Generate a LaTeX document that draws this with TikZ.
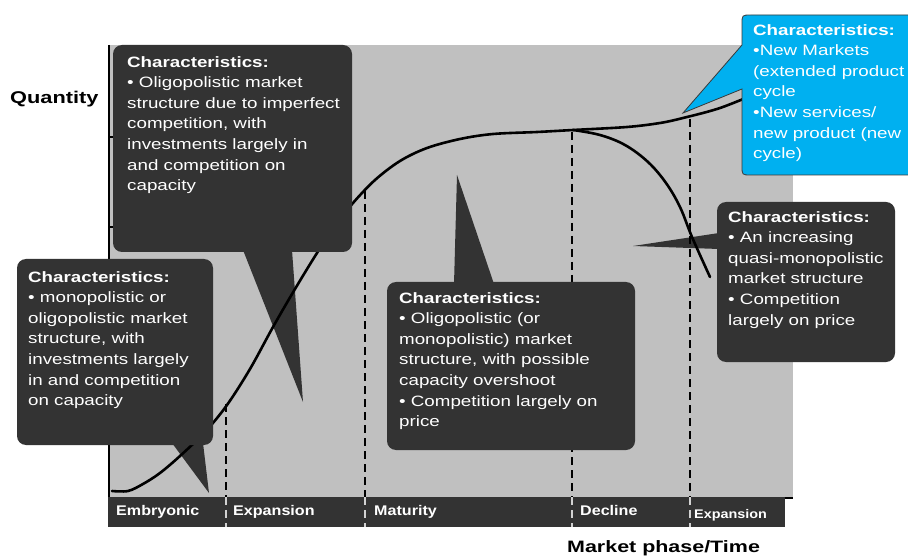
\documentclass[tikz,border=0pt]{standalone}
\usepackage{fontspec}
\setmainfont{Liberation Sans}
\newfontfamily\cfont{Liberation Sans}[FakeStretch=1.25]
\newfontfamily\qfont{Liberation Sans}[FakeStretch=1.28]
\newfontfamily\mfont{Liberation Sans}[FakeStretch=1.3]
\newfontfamily\pfont{Liberation Sans}[FakeStretch=1.15]
\definecolor{bgray}{HTML}{C0C0C0}
\definecolor{dbox}{HTML}{333333}
\definecolor{cblue}{HTML}{00B0F0}
\definecolor{cborder}{HTML}{3A3A3A}
\begin{document}
\begin{tikzpicture}[x=1pt,y=-1pt,
  ctext/.style={anchor=north west, align=left, text=white, inner sep=0pt,
    font=\cfont\fontsize{15}{20.6}\selectfont},
  phase/.style={anchor=base west, text=white, inner sep=0pt,
    font=\pfont\bfseries\fontsize{14}{16}\selectfont},
  darkbox/.style={fill=dbox},
  pointer/.style={fill=dbox},
  curve/.style={line width=2.6pt, line join=round, line cap=round},
  vdash/.style={line width=1.6pt, dash pattern=on 8pt off 5pt},
  sepdash/.style={line width=1.4pt, color=bgray!70!white, dash pattern=on 8pt off 5pt}]
\useasboundingbox (0,0) rectangle (908,556);
\clip (0,0) rectangle (908,556);
\fill[white] (0,0) rectangle (908,556);
% plot area
\fill[bgray] (110,45) rectangle (793,497);
% pointers (below curve)
\fill[pointer] (243,250) -- (292,250) -- (303,402) -- cycle;
\fill[pointer] (172,443) -- (203,443) -- (209,493) -- cycle;
\fill[pointer] (454,284) -- (494,284) -- (457,175) -- cycle;
\fill[pointer] (719,233) -- (719,249) -- (633,246) -- cycle;
% dashed phase lines
\draw[vdash] (226,404) -- (226,497);
\draw[vdash] (365,191) -- (365,497);
\draw[vdash] (572,132) -- (572,497);
\draw[vdash] (690,119) -- (690,497);
% curve
\draw[curve] plot[smooth, tension=0.55] coordinates {
 (112,491) (128,491) (143,484) (160,473) (180,456) (205,432) (227,405)
 (250,369) (273,327) (295,289) (317,253) (335,226) (353,203) (375,180)
 (400,161) (427,148) (460,139) (493,134) (537,132) (573,130) (627,127)
 (660,123) (683,118) (720,108) (760,92)};
\draw[curve] plot[smooth, tension=0.6] coordinates {
 (573,130) (600,135) (625,145) (648,162) (666,183) (680,207) (692,237) (710,277)};
% axes
\draw[line width=2.5pt] (109,45) -- (109,498);
\draw[line width=1.2pt] (109,137) -- (113,137) (109,227) -- (113,227);
\draw[line width=2pt] (108,498) -- (793,498);
% phase bar
\fill[dbox] (108,497) rectangle (785,527);
\draw[sepdash] (226,497) -- (226,527);
\draw[sepdash] (365,497) -- (365,527);
\draw[sepdash] (572,497) -- (572,527);
\draw[sepdash] (690,497) -- (690,527);
\node[phase] (ph1) at (116,515) {Embryonic};
\node[phase] (ph2) at (233,515) {Expansion};
\node[phase] (ph3) at (374,515) {Maturity};
\node[phase] (ph4) at (580,515) {Decline};
\node[phase, font=\pfont\bfseries\fontsize{12.5}{14}\selectfont] (ph5) at (694,518) {Expansion};
% axis labels
\node[anchor=base west, inner sep=0pt, font=\qfont\bfseries\fontsize{17}{20}\selectfont] (qty) at (10,104) {Quantity};
\node[anchor=base west, inner sep=0pt, font=\mfont\bfseries\fontsize{16.5}{20}\selectfont] (mpt) at (567,552) {Market phase/Time};
% dark callout boxes
\fill[darkbox, rounded corners=9pt] (113,45) rectangle (352,252);
\fill[darkbox, rounded corners=9pt] (17,259) rectangle (213,445);
\fill[darkbox, rounded corners=9pt] (387,282) rectangle (635,450);
\fill[darkbox, rounded corners=9pt] (717,202) rectangle (895,362);
% blue callout (single outline)
\draw[fill=cblue, draw=cborder, line width=0.8pt, line join=miter]
  (683,113) -- (742,89) -- (742,166) .. controls (742,175) .. (751,175)
  -- (925,175) -- (925,15) -- (751,15) .. controls (742,15) .. (742,24)
  -- (742,45) -- cycle;
% callout texts
\node[ctext] (t1) at (127,56) {\textbf{Characteristics:}\\
 • Oligopolistic market\\
 structure due to imperfect\\
 competition, with\\
 investments largely in\\
 and competition on\\
 capacity};
\node[ctext] (t2) at (28,271) {\textbf{Characteristics:}\\
 • monopolistic or\\
 oligopolistic market\\
 structure, with\\
 investments largely\\
 in and competition\\
 on capacity};
\node[ctext] (t3) at (399,292) {\textbf{Characteristics:}\\
 • Oligopolistic (or\\
 monopolistic) market\\
 structure, with possible\\
 capacity overshoot\\
 • Competition largely on\\
 price};
\node[ctext] (t4) at (728,211) {\textbf{Characteristics:}\\
 • An increasing\\
 quasi-monopolistic\\
 market structure\\
 • Competition\\
 largely on price};
\node[ctext] (t5) at (753,24) {\textbf{Characteristics:}\\
 •New Markets\\
 (extended product\\
 cycle\\
 •New services/\\
 new product (new\\
 cycle)};
\end{tikzpicture}
\end{document}
